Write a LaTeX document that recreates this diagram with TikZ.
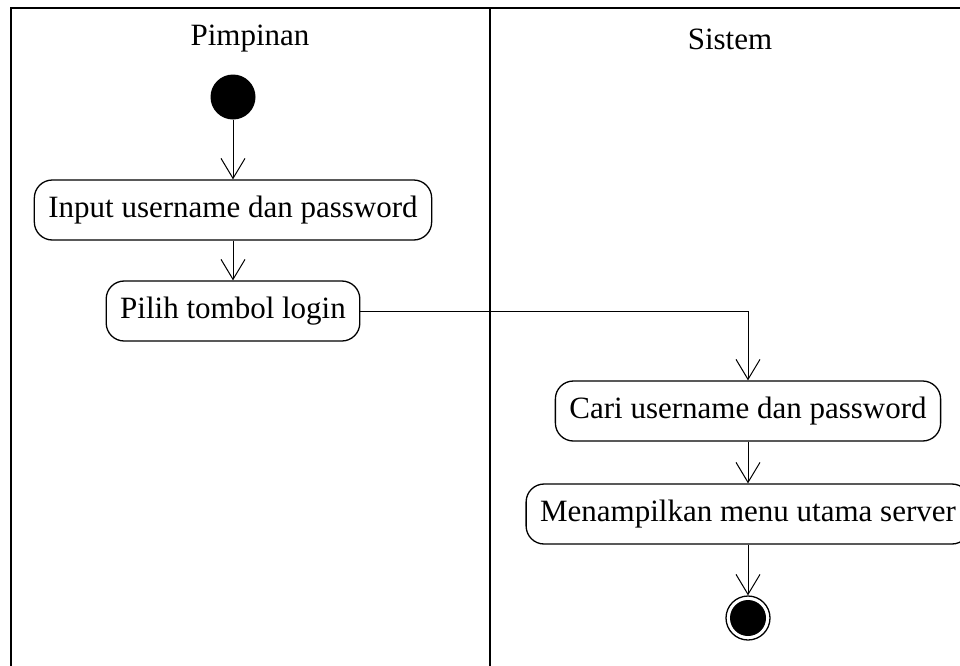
\documentclass[tikz,border=0pt]{standalone}
\usepackage{fontspec}
\setmainfont{Liberation Serif}
\usetikzlibrary{arrows.meta}
\begin{document}
\begin{tikzpicture}[x=1pt,y=-1pt,
  act/.style={draw, line width=1.3pt, rounded corners=18pt, minimum height=60pt, inner xsep=14pt, font=\fontsize{31}{37}\selectfont},
  lane/.style={line width=2pt},
  flow/.style={line width=1pt, -{Straight Barb[length=20pt,width=24pt]}},
  lanetitle/.style={font=\fontsize{31}{37}\selectfont}]
\useasboundingbox (0,0) rectangle (960,665);
\clip (0,0) rectangle (960,665);
\fill[white] (0,0) rectangle (960,665);
% swimlane frame
\coordinate (tl) at (11,8);
\coordinate (tr) at (975,8);
\coordinate (bl) at (11,680);
\coordinate (dt) at (490,8);
\coordinate (db) at (490,680);
\draw[lane] (bl) -- (tl) -- (tr);
\draw[lane] (dt) -- (db);
\node[lanetitle] (lp) at (250,39) {Pimpinan};
\node[lanetitle] (ls) at (730,39) {Sistem};
% nodes
\node[circle, fill, minimum size=45pt, inner sep=0pt] (start) at (233,97) {};
\node[act] (a1) at (233,210) {Input username dan password};
\node[act] (a2) at (233,311) {Pilih tombol login};
\node[act] (a3) at (748,411) {Cari username dan password};
\node[act] (a4) at (748,514) {Menampilkan menu utama server};
\node[circle, draw, line width=1.3pt, minimum size=44pt, inner sep=0pt] (end) at (748,618) {};
\node[circle, fill, minimum size=36pt, inner sep=0pt] (endin) at (end.center) {};
% flows
\draw[flow] (start) -- (a1);
\draw[flow] (a1) -- (a2);
\draw[flow] (a2) -| (a3);
\draw[flow] (a3) -- (a4);
\draw[flow] (a4) -- (end);
\end{tikzpicture}
\end{document}
